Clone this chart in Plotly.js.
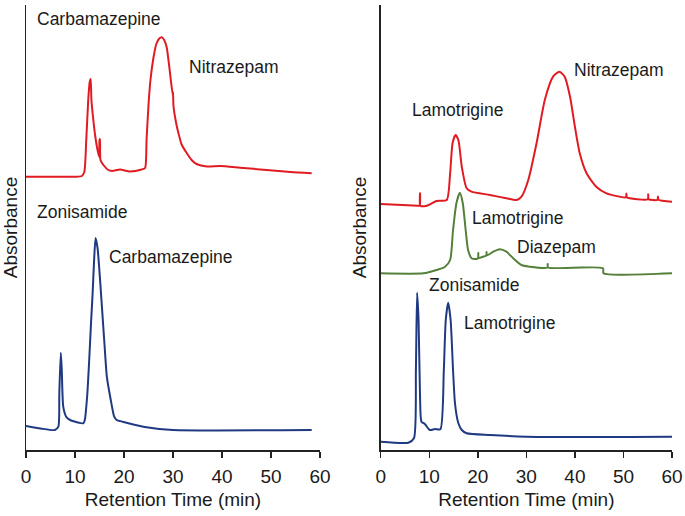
<!DOCTYPE html>
<html>
<head>
<meta charset="utf-8">
<script src="https://cdn.plot.ly/plotly-3.0.1.min.js"></script>
<style>html,body{margin:0;padding:0;background:#fff;}#chart{width:685px;height:516px;}</style>
</head>
<body>
<div id="chart"></div>
<script>
// Left panel – red trace (Carbamazepine / Nitrazepam)
const leftRedTime = [0,5,10,11.4,11.9,12.3,12.7,13.0,13.2,13.35,13.7,14.1,14.6,14.95,15.0,15.1,15.2,15.8,16.8,17.6,19.2,21.2,23.6,24.3,24.6,25.0,25.4,26.0,26.6,27.2,27.7,28.2,28.7,29.2,29.6,29.95,30.0,30.1,30.6,31.1,31.8,32.8,33.8,34.8,36.9,39.6,43.7,49.1,54,58.3];
const leftRedAbs  = [273.3,273.3,273.3,274,278,310,350,368,371,350,332,315,300,293,310,311,290,285,280,279,280.5,278.5,280.5,282,310,345,370,392,406,411.5,412.7,410,403,385,368,355,358,344,328,317,305,297,290,286,283.5,284,282.3,280,278,276.7];
// Left panel – blue trace (Zonisamide / Carbamazepine)
const leftBlueTime = [0,3,5.9,6.6,6.8,7.1,7.3,7.6,8.2,9.0,11.7,12.0,12.5,12.9,13.3,13.6,13.9,14.2,14.6,14.9,15.3,16.0,16.5,17.3,18.0,18.5,20.5,24.6,30,58.3];
const leftBlueAbs  = [24,21.5,20,23.3,57,97.3,80,43.3,33.3,30,26.7,30,55,90,130,157,190,212,202,185,157,107,73.3,50,33.3,30,27.3,22.7,20,20];
// Right panel – red trace (Lamotrigine / Nitrazepam)
const rightRedTime = [0,7.7,8.05,8.1,8.15,9.5,11.5,13.6,14.3,14.8,15.4,16.0,16.7,17.7,18.7,22.5,25.9,28.0,29.0,30.4,32.1,33.8,35.5,36.8,37.9,39.0,40.0,41.0,42.4,44.4,46.5,50.5,50.6,50.7,55.0,55.1,55.2,57.0,57.1,57.2,60];
const rightRedAbs  = [246,244.3,244.3,256.7,244.3,244.3,249,250,276.7,306.7,315,310,283.3,261.7,258.3,255,251.7,250,253.3,270,306.7,350,373.3,378.3,373.3,353.3,323.3,296.7,276.7,263.3,256.7,252.7,256.5,252.7,250.7,255.7,250.7,250.2,253.5,250.2,248.3];
// Right panel – green trace (Lamotrigine / Diazepam)
const rightGreenTime = [0,8.8,11.5,13.2,14.3,14.9,15.6,16.3,16.9,17.5,18.0,18.7,19.75,20.05,20.1,20.15,21.1,21.75,21.8,21.85,23.2,24.5,25.9,27.3,29,30.7,34.35,34.4,34.45,39.7,45.8,45.9,60];
const rightGreenAbs  = [176.7,176.7,180,183,190,220,247,257.3,247,220,200,191.7,191,192,197,192,193.3,194.5,198,194.5,198.3,200.7,198.3,191.7,185,183.3,182.5,186,182.5,182.3,181.7,176.7,176.7];
// Right panel – blue trace (Zonisamide / Lamotrigine)
const rightBlueTime = [0,5.7,6.85,7.25,7.5,7.8,8.1,8.4,9.1,10.1,11.2,12.3,13.0,13.4,13.9,14.4,14.9,15.3,16.0,16.7,17.7,22.5,30,60];
const rightBlueAbs  = [8.3,7.3,11.7,80,157.3,130,53.3,28.3,26,20,21,20.7,80,130,147.3,130,80,46.7,26.7,20,16.7,15,13.3,13.3];

// Peak labels
const leftLabels  = ["Carbamazepine","Nitrazepam","Zonisamide","Carbamazepine"];
const leftLabelT  = [1.84,32.8,1.84,16.6];
const leftLabelA  = [431,383.3,238,193];
const rightLabels = ["Nitrazepam","Lamotrigine","Lamotrigine","Diazepam","Zonisamide","Lamotrigine"];
const rightLabelT = [39.5,6.0,18.4,27.6,9.6,16.7];
const rightLabelA = [380,340,231.7,203.3,165,126.7];

const xTickVals = [0,10,20,30,40,50,60];
const xTitle = "Retention Time (min)";
const yTitle = "Absorbance";

const RED = "#e01b22", GREEN = "#55803a", BLUE = "#1f3a82";
const FONT = "Liberation Sans, Arial, sans-serif";
const W = 685, H = 516;

function line(x, y, color, xa, ya) {
  return {x: x, y: y, type: "scatter", mode: "lines", xaxis: xa, yaxis: ya,
          line: {color: color, width: 2, shape: "spline", smoothing: 0.6},
          hoverinfo: "skip", showlegend: false};
}
const data = [
  line(leftRedTime, leftRedAbs, RED, "x", "y"),
  line(leftBlueTime, leftBlueAbs, BLUE, "x", "y"),
  line(rightRedTime, rightRedAbs, RED, "x2", "y2"),
  line(rightGreenTime, rightGreenAbs, GREEN, "x2", "y2"),
  line(rightBlueTime, rightBlueAbs, BLUE, "x2", "y2")
];

function xaxis(d0, d1, anchor) {
  return {domain: [d0 / W, d1 / W], range: [0, 60], anchor: anchor,
    tickvals: xTickVals, ticks: "outside", ticklen: 6, tickwidth: 1.5, tickcolor: "#222",
    ticklabelstandoff: 3,
    showline: true, linecolor: "#222", linewidth: 1.5, showgrid: false, zeroline: false,
    tickfont: {family: FONT, size: 19, color: "#1a1a1a"},
    title: {text: xTitle, font: {family: FONT, size: 19, color: "#1a1a1a"}, standoff: 6},
    automargin: false, fixedrange: true};
}
function yaxis(anchor, standoff) {
  return {domain: [66 / H, 511 / H], range: [0, 445], anchor: anchor,
    showline: true, linecolor: "#222", linewidth: 1.5, showgrid: false, zeroline: false,
    ticks: "", showticklabels: false,
    title: {text: yTitle, font: {family: FONT, size: 19, color: "#1a1a1a"}, standoff: standoff},
    automargin: false, fixedrange: true};
}

const annotations = [];
leftLabels.forEach((t, i) => annotations.push({text: t, x: leftLabelT[i], y: leftLabelA[i],
  xref: "x", yref: "y", xanchor: "left", yanchor: "middle", showarrow: false,
  font: {family: FONT, size: 17.5, color: "#1a1a1a"}}));
rightLabels.forEach((t, i) => annotations.push({text: t, x: rightLabelT[i], y: rightLabelA[i],
  xref: "x2", yref: "y2", xanchor: "left", yanchor: "middle", showarrow: false,
  font: {family: FONT, size: 17.5, color: "#1a1a1a"}}));

const layout = {
  width: W, height: H, margin: {l: 0, r: 0, t: 0, b: 0},
  paper_bgcolor: "#fff", plot_bgcolor: "#fff", showlegend: false,
  xaxis: xaxis(26, 320, "y"),
  yaxis: yaxis("x", 3),
  xaxis2: xaxis(380.7, 672, "y2"),
  yaxis2: yaxis("x2", 7),
  annotations: annotations
};
Plotly.newPlot("chart", data, layout, {staticPlot: true, displayModeBar: false});
</script>
</body>
</html>
